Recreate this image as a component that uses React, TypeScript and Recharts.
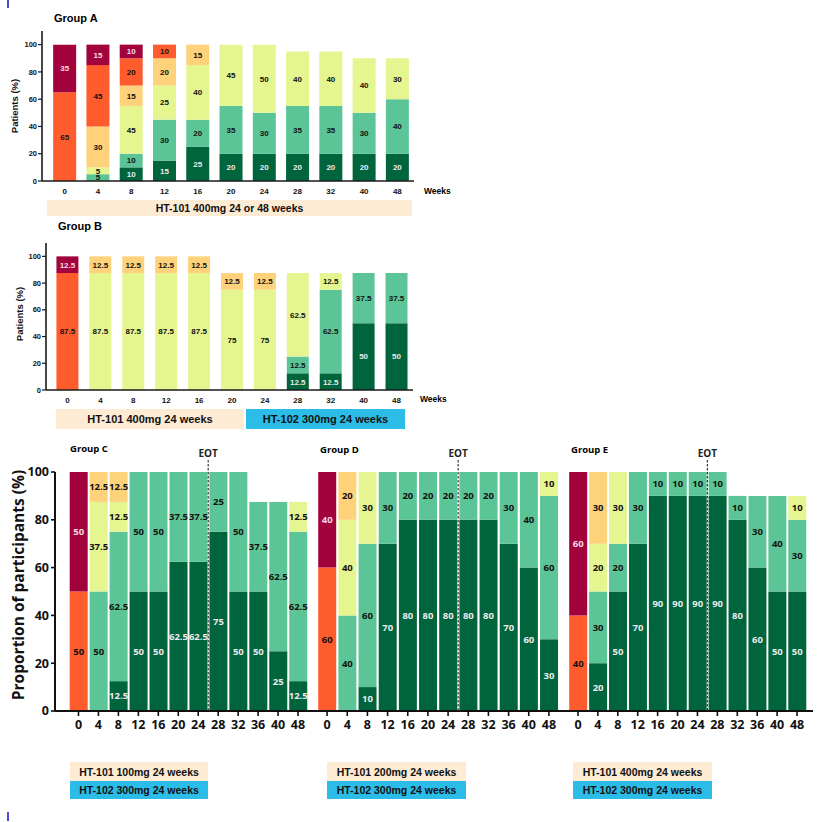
// Stacked response distribution per visit week, groups A-E
// Recharts BarChart, one stack per week, levels from bottom (best) to top (worst)

import type { CSSProperties } from 'react'
import { BarChart, Bar, XAxis, YAxis, LabelList, ReferenceLine } from 'recharts'

const WEEKS_AB = ['0', '4', '8', '12', '16', '20', '24', '28', '32', '40', '48']
const WEEKS_CDE = ['0', '4', '8', '12', '16', '20', '24', '28', '32', '36', '40', '48']
const Y_TICKS = [0, 20, 40, 60, 80, 100]

// stack order, bottom to top
const LEVELS = ['l1', 'l2', 'l3', 'l4', 'l5', 'l6']

// Group A
const A_L1 = [0, 0, 10, 15, 25, 20, 20, 20, 20, 20, 20]
const A_L2 = [0, 5, 10, 30, 20, 35, 30, 35, 35, 30, 40]
const A_L3 = [0, 5, 35, 25, 40, 45, 50, 40, 40, 40, 30]
const A_L4 = [0, 30, 15, 20, 15, 0, 0, 0, 0, 0, 0]
const A_L5 = [65, 45, 20, 10, 0, 0, 0, 0, 0, 0, 0]
const A_L6 = [35, 15, 10, 0, 0, 0, 0, 0, 0, 0, 0]
// the source figure prints 45 on a segment drawn 35 high
const A_PRINTED: Record<string, string> = { '8:l3': '45' }

// Group B
const B_L1 = [0, 0, 0, 0, 0, 0, 0, 12.5, 12.5, 50, 50]
const B_L2 = [0, 0, 0, 0, 0, 0, 0, 12.5, 62.5, 37.5, 37.5]
const B_L3 = [0, 87.5, 87.5, 87.5, 87.5, 75, 75, 62.5, 12.5, 0, 0]
const B_L4 = [0, 12.5, 12.5, 12.5, 12.5, 12.5, 12.5, 0, 0, 0, 0]
const B_L5 = [87.5, 0, 0, 0, 0, 0, 0, 0, 0, 0, 0]
const B_L6 = [12.5, 0, 0, 0, 0, 0, 0, 0, 0, 0, 0]

// Group C
const C_L1 = [0, 0, 12.5, 50, 50, 62.5, 62.5, 75, 50, 50, 25, 12.5]
const C_L2 = [0, 50, 62.5, 50, 50, 37.5, 37.5, 25, 50, 37.5, 62.5, 62.5]
const C_L3 = [0, 37.5, 12.5, 0, 0, 0, 0, 0, 0, 0, 0, 12.5]
const C_L4 = [0, 12.5, 12.5, 0, 0, 0, 0, 0, 0, 0, 0, 0]
const C_L5 = [50, 0, 0, 0, 0, 0, 0, 0, 0, 0, 0, 0]
const C_L6 = [50, 0, 0, 0, 0, 0, 0, 0, 0, 0, 0, 0]

// Group D
const D_L1 = [0, 0, 10, 70, 80, 80, 80, 80, 80, 70, 60, 30]
const D_L2 = [0, 40, 60, 30, 20, 20, 20, 20, 20, 30, 40, 60]
const D_L3 = [0, 40, 30, 0, 0, 0, 0, 0, 0, 0, 0, 10]
const D_L4 = [0, 20, 0, 0, 0, 0, 0, 0, 0, 0, 0, 0]
const D_L5 = [60, 0, 0, 0, 0, 0, 0, 0, 0, 0, 0, 0]
const D_L6 = [40, 0, 0, 0, 0, 0, 0, 0, 0, 0, 0, 0]

// Group E
const E_L1 = [0, 20, 50, 70, 90, 90, 90, 90, 80, 60, 50, 50]
const E_L2 = [0, 30, 20, 30, 10, 10, 10, 10, 10, 30, 40, 30]
const E_L3 = [0, 20, 30, 0, 0, 0, 0, 0, 0, 0, 0, 10]
const E_L4 = [0, 30, 0, 0, 0, 0, 0, 0, 0, 0, 0, 0]
const E_L5 = [40, 0, 0, 0, 0, 0, 0, 0, 0, 0, 0, 0]
const E_L6 = [60, 0, 0, 0, 0, 0, 0, 0, 0, 0, 0, 0]

const LEVEL_FILL: Record<string, string> = {
  l1: '#00643c',
  l2: '#5cc597',
  l3: '#e5f590',
  l4: '#fed27b',
  l5: '#ff5c2e',
  l6: '#a3033d',
}
const LEVEL_TEXT: Record<string, string> = {
  l1: '#ececec',
  l2: '#111',
  l3: '#111',
  l4: '#111',
  l5: '#111',
  l6: '#f6dde4',
}

const SANS = '"Liberation Sans", Arial, sans-serif'
const OPEN = '"Open Sans", "Noto Sans", sans-serif'
const BEIGE = '#fdebd3'
const CYAN = '#2bbde8'

function buildRows(weeks: string[], levels: number[][], printed: Record<string, string> = {}) {
  return weeks.map((w, i) => {
    const row: Record<string, number | string> = { week: w }
    LEVELS.forEach((k, j) => {
      const v = levels[j][i]
      row[k] = v
      row[k + 'Label'] = printed[`${w}:${k}`] ?? (v ? String(v) : '')
    })
    return row
  })
}

const rowsA = buildRows(WEEKS_AB, [A_L1, A_L2, A_L3, A_L4, A_L5, A_L6], A_PRINTED)
const rowsB = buildRows(WEEKS_AB, [B_L1, B_L2, B_L3, B_L4, B_L5, B_L6])
const rowsC = buildRows(WEEKS_CDE, [C_L1, C_L2, C_L3, C_L4, C_L5, C_L6])
const rowsD = buildRows(WEEKS_CDE, [D_L1, D_L2, D_L3, D_L4, D_L5, D_L6])
const rowsE = buildRows(WEEKS_CDE, [E_L1, E_L2, E_L3, E_L4, E_L5, E_L6])

// value text centred in each stack segment
const segmentLabel = (color: string, size: number, family: string) => (p: any) => {
  const vb = p.viewBox ?? p
  const x = Number(vb.x ?? p.x)
  const y = Number(vb.y ?? p.y)
  const w = Number(vb.width ?? p.width)
  const h = Number(vb.height ?? p.height)
  if (!p.value) return null
  return (
    <text
      x={x + w / 2}
      y={y + h / 2}
      dy="0.36em"
      textAnchor="middle"
      fill={color}
      fontSize={size}
      fontWeight={700}
      fontFamily={family}
    >
      {p.value}
    </text>
  )
}

function stackBars(size: number, family: string) {
  return LEVELS.map((k) => (
    <Bar key={k} dataKey={k} stackId="s" fill={LEVEL_FILL[k]} isAnimationActive={false}>
      <LabelList dataKey={k + 'Label'} content={segmentLabel(LEVEL_TEXT[k], size, family)} />
    </Bar>
  ))
}

// dashed end-of-treatment marker, runs a little above the plot
const EotLine = (p: any) => {
  const top = Math.min(p.y1, p.y2)
  const bottom = Math.max(p.y1, p.y2)
  return (
    <g>
      <line x1={p.x1} x2={p.x1} y1={top - 12} y2={bottom} stroke="#3a3a3a" strokeWidth={1.2} strokeDasharray="2.5 1.5" />
      <text x={p.x1} y={top - 15} textAnchor="middle" fontSize={10} fontWeight={700} fontFamily={OPEN} fill="#222">
        EOT
      </text>
    </g>
  )
}

const abs = (left: number, top: number, extra: CSSProperties = {}): CSSProperties => ({
  position: 'absolute',
  left,
  top,
  whiteSpace: 'nowrap',
  lineHeight: 1,
  ...extra,
})

const vertical = (cx: number, cy: number, size: number, family: string): CSSProperties => ({
  position: 'absolute',
  left: cx,
  top: cy,
  transform: 'translate(-50%, -50%) rotate(-90deg)',
  whiteSpace: 'nowrap',
  lineHeight: 1,
  fontSize: size,
  fontWeight: 700,
  fontFamily: family,
  color: '#111',
})

const banner = (left: number, top: number, width: number, height: number, bg: string, size: number): CSSProperties => ({
  position: 'absolute',
  left,
  top,
  width,
  height,
  background: bg,
  display: 'flex',
  alignItems: 'center',
  justifyContent: 'center',
  fontSize: size,
  fontWeight: 700,
  fontFamily: SANS,
  color: '#111',
  whiteSpace: 'nowrap',
})

const topTick = { fill: '#111', fontSize: 8, fontWeight: 700, fontFamily: SANS }
const topYTick = { fill: '#111', fontSize: 7.5, fontWeight: 700, fontFamily: SANS }
const bottomTick = { fill: '#111', fontSize: 12.5, fontWeight: 700, fontFamily: OPEN }
const axisTop = { stroke: '#1a1a1a', strokeWidth: 1.6 }
const axisBottom = { stroke: '#111', strokeWidth: 2 }

function BottomGroup({ data, width, padLeft, padRight, withY }: {
  data: Record<string, number | string>[]
  width: number
  padLeft: number
  padRight: number
  withY: boolean
}) {
  return (
    <BarChart width={width} height={301} data={data} margin={{ top: 32, right: 0, left: 0, bottom: 0 }} barCategoryGap="6%">
      <XAxis
        dataKey="week"
        height={30}
        interval={0}
        padding={{ left: padLeft, right: padRight }}
        axisLine={axisBottom}
        tickLine={{ stroke: '#111', strokeWidth: 1.6 }}
        tickSize={5}
        tickMargin={4}
        tick={bottomTick}
      />
      {withY ? (
        <YAxis
          width={55}
          domain={[0, 100]}
          ticks={Y_TICKS}
          axisLine={axisBottom}
          tickLine={{ stroke: '#111', strokeWidth: 1.6 }}
          tickSize={4}
          tickMargin={2}
          tick={bottomTick}
        />
      ) : (
        <YAxis hide domain={[0, 100]} />
      )}
      {stackBars(9.5, OPEN)}
      <ReferenceLine x="24" position="end" shape={EotLine} />
    </BarChart>
  )
}

export default function App() {
  return (
    <div style={{ position: 'relative', width: 835, height: 822, background: '#fff', overflow: 'hidden' }}>
      <style>{'body{margin:0}'}</style>

      {/* crop marks */}
      <div style={{ position: 'absolute', left: 7, top: 0, width: 2, height: 8, background: '#4a4ad8' }} />
      <div style={{ position: 'absolute', left: 7, top: 812, width: 2, height: 9, background: '#4a4ad8' }} />

      {/* Group A */}
      <div style={abs(54, 13, { fontSize: 11, fontWeight: 700, fontFamily: SANS })}>Group A</div>
      <div style={vertical(15, 106, 9.5, SANS)}>Patients (%)</div>
      <div style={{ position: 'absolute', left: 0, top: 0 }}>
        <BarChart width={414} height={200} data={rowsA} margin={{ top: 31, right: 0, left: 0, bottom: 0 }} barCategoryGap="15.5%">
          <XAxis
            dataKey="week"
            height={19}
            interval={0}
            padding={{ left: 6, right: 0 }}
            axisLine={axisTop}
            tickLine={false}
            tickSize={4}
            tickMargin={3}
            tick={topTick}
          />
          <YAxis
            width={42}
            domain={[0, 110]}
            ticks={Y_TICKS}
            axisLine={axisTop}
            tickLine={{ stroke: '#1a1a1a', strokeWidth: 1.2 }}
            tickSize={4}
            tickMargin={1}
            tick={topYTick}
          />
          {stackBars(8, SANS)}
        </BarChart>
      </div>
      <div style={abs(424, 187, { fontSize: 8.5, fontWeight: 700, fontFamily: SANS })}>Weeks</div>
      <div style={banner(47, 200, 365, 16, BEIGE, 10.5)}>HT-101 400mg 24 or 48 weeks</div>

      {/* Group B */}
      <div style={abs(58, 221, { fontSize: 11, fontWeight: 700, fontFamily: SANS })}>Group B</div>
      <div style={vertical(20, 314, 9.5, SANS)}>Patients (%)</div>
      <div style={{ position: 'absolute', left: 0, top: 220 }}>
        <BarChart width={413} height={189} data={rowsB} margin={{ top: 23, right: 0, left: 0, bottom: 0 }} barCategoryGap="16.5%">
          <XAxis
            dataKey="week"
            height={19}
            interval={0}
            padding={{ left: 5, right: 0 }}
            axisLine={axisTop}
            tickLine={false}
            tickSize={4}
            tickMargin={3}
            tick={topTick}
          />
          <YAxis
            width={46}
            domain={[0, 110]}
            ticks={Y_TICKS}
            axisLine={axisTop}
            tickLine={{ stroke: '#1a1a1a', strokeWidth: 1.2 }}
            tickSize={4}
            tickMargin={1}
            tick={topYTick}
          />
          {stackBars(8, SANS)}
        </BarChart>
      </div>
      <div style={abs(420, 395, { fontSize: 8.5, fontWeight: 700, fontFamily: SANS })}>Weeks</div>
      <div style={banner(56, 409, 188, 20, BEIGE, 11)}>HT-101 400mg 24 weeks</div>
      <div style={banner(246, 409, 159, 20, CYAN, 11)}>HT-102 300mg 24 weeks</div>

      {/* Groups C, D, E share one baseline */}
      <div style={vertical(19, 585, 15.5, OPEN)}>Proportion of participants (%)</div>
      <div style={abs(70, 444, { fontSize: 9.5, fontWeight: 700, fontFamily: OPEN })}>Group C</div>
      <div style={abs(320, 445, { fontSize: 9.5, fontWeight: 700, fontFamily: OPEN })}>Group D</div>
      <div style={abs(571, 445, { fontSize: 9.5, fontWeight: 700, fontFamily: OPEN })}>Group E</div>
      <div style={{ position: 'absolute', left: 0, top: 440 }}>
        <BottomGroup data={rowsC} width={308} padLeft={13.5} padRight={0} withY />
      </div>
      <div style={{ position: 'absolute', left: 308, top: 440 }}>
        <BottomGroup data={rowsD} width={251} padLeft={9} padRight={0} withY={false} />
      </div>
      <div style={{ position: 'absolute', left: 559, top: 440 }}>
        <BottomGroup data={rowsE} width={254} padLeft={9} padRight={6} withY={false} />
      </div>

      <div style={banner(70, 762, 138, 19, BEIGE, 10.5)}>HT-101 100mg 24 weeks</div>
      <div style={banner(70, 781, 138, 18, CYAN, 10.5)}>HT-102 300mg 24 weeks</div>
      <div style={banner(327, 762, 139, 19, BEIGE, 10.5)}>HT-101 200mg 24 weeks</div>
      <div style={banner(327, 781, 139, 18, CYAN, 10.5)}>HT-102 300mg 24 weeks</div>
      <div style={banner(573, 762, 139, 19, BEIGE, 10.5)}>HT-101 400mg 24 weeks</div>
      <div style={banner(573, 781, 139, 18, CYAN, 10.5)}>HT-102 300mg 24 weeks</div>
    </div>
  )
}
